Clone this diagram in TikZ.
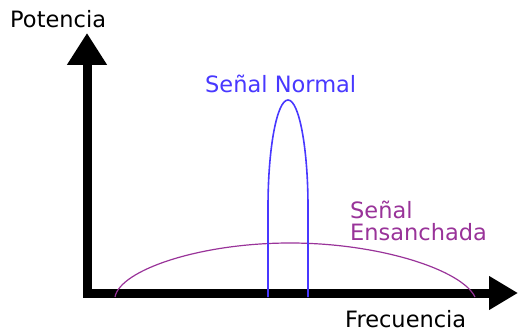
\documentclass[tikz,border=0pt]{standalone}
\usepackage{fontspec}
\setmainfont{DejaVu Sans}
\usepackage{tikz}
\usetikzlibrary{positioning,arrows.meta}
\definecolor{normalblue}{RGB}{72,56,255}
\definecolor{widepurple}{RGB}{153,51,153}

\begin{document}
\begin{tikzpicture}[
        x=1pt,
        y=-1pt,
        label/.style={
            inner sep=0pt,
            anchor=base west,
            font=\fontsize{22.5}{22}\selectfont
        },
        axis/.style={line width=9pt, line join=miter},
        normal/.style={normalblue, line width=1.6pt},
        wide/.style={widepurple, line width=1.2pt}
    ]
    \useasboundingbox (0,0) rectangle (518,331);

    % AXES
    \coordinate (ytip) at (87,33);
    \coordinate (xtip) at (518,293);
    \draw[axis, {Triangle[length=32pt,width=38pt]}-{Triangle[length=29pt,width=32pt]}]
        (ytip) |- (xtip);

    \node[label] (ylabel) at (10,28) {Potencia};
    \node[label] (xlabel) at (345,327) {Frecuencia};

    % SPREAD SIGNAL
    \coordinate (wideleft) at (115,297);
    \coordinate (widetop) at (290,243);
    \coordinate (wideright) at (475,297);
    \draw[wide] (wideleft) .. controls (120,270) and (200,243) .. (widetop)
        .. controls (380,243) and (462,270) .. (wideright);
    \node[label, widepurple, anchor=north west, align=left] (widelabel) at (350,201)
        {Señal\\Ensanchada};

    % NORMAL SIGNAL
    \draw[normal] (268,297) -- (268,207)
        arc[start angle=180, end angle=0, x radius=20pt, y radius=107pt] -- (308,297);
    \node[label, normalblue] (normallabel) at (205,93) {Señal Normal};

\end{tikzpicture}
\end{document}
